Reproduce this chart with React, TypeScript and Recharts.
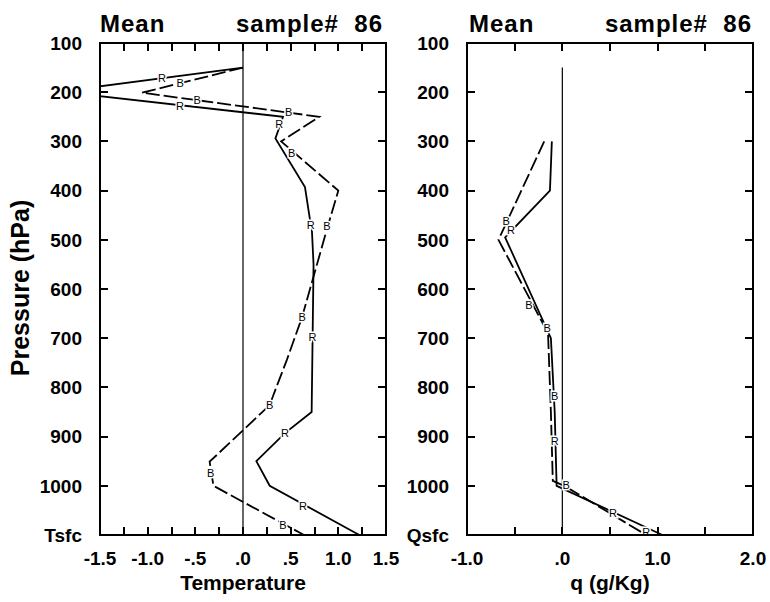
import React from 'react'
import { ScatterChart, Scatter, XAxis, YAxis, ReferenceLine } from 'recharts'

// pressure levels (hPa); 1100 is the surface row (Tsfc / Qsfc)
const pressureTicks = [100, 200, 300, 400, 500, 600, 700, 800, 900, 1000, 1100]

const tempTicks = [-1.5, -1.25, -1.0, -0.75, -0.5, -0.25, 0, 0.25, 0.5, 0.75, 1.0, 1.25, 1.5]
const tempLabels = [-1.5, -1.0, -0.5, 0, 0.5, 1.0, 1.5]
const qTicks = [-1.0, -0.5, 0, 0.5, 1.0, 1.5, 2.0]
const qLabels = [-1.0, 0, 1.0, 2.0]

// [value, pressure]; the R curve leaves the frame near 200 hPa, held at the edge
const tempR: [number, number][] = [
  [0, 150], [-1.5, 188], [-1.5, 208], [0.42, 250], [0.34, 294], [0.65, 393], [0.7, 456], [0.72, 470],
  [0.74, 550], [0.73, 700], [0.72, 850], [0.44, 893], [0.14, 950], [0.28, 1000], [1.22, 1100]
]
const tempB: [number, number][] = [
  [0, 150], [-1.06, 201], [0.8, 250], [0.4, 300], [0.91, 385], [1.0, 400], [0.89, 472],
  [0.76, 561], [0.62, 657], [0.46, 744], [0.32, 815], [0.28, 836], [-0.35, 951], [-0.31, 1000],
  [0.64, 1100]
]
const tempRMarks: [number, number][] = [
  [-0.85, 172], [-0.66, 228], [0.38, 265], [0.71, 470], [0.73, 698], [0.44, 893], [0.63, 1041]
]
const tempBMarks: [number, number][] = [
  [-0.66, 182], [-0.48, 216], [0.48, 240], [0.51, 324], [0.88, 472], [0.62, 657], [0.28, 836],
  [-0.34, 974], [0.42, 1080]
]

const qR: [number, number][] = [
  [-0.11, 300], [-0.13, 400], [-0.6, 495], [-0.12, 700], [-0.08, 850], [-0.06, 1000], [1.05, 1100]
]
const qB: [number, number][] = [
  [-0.19, 300], [-0.67, 500], [-0.15, 690], [-0.12, 850], [-0.1, 990], [0.02, 1000], [0.88, 1100]
]
const qRMarks: [number, number][] = [[-0.54, 480], [-0.08, 908], [0.53, 1055], [0.88, 1093]]
const qBMarks: [number, number][] = [[-0.59, 461], [-0.35, 632], [-0.16, 680], [-0.08, 818], [0.04, 998]]

const FONT = '"Liberation Sans", Arial, Helvetica, sans-serif'
const P_TOP = 100
const P_BOT = 1100
const HEIGHT = 602
const M_TOP = 43
const X_AXIS_H = 67
const TICK_LEN = 8

const toPts = (arr: [number, number][]) => arr.map(([v, p]) => ({ v, p }))

const fmt = (v: number) => {
  const a = Math.abs(v)
  const s = a < 1 ? a.toFixed(1).slice(1) : a.toFixed(1)
  return (v < 0 ? '-' : '') + s
}

const noShape = () => <g />

const letter = (ch: string) => (props: any) => (
  <text
    x={props.cx}
    y={props.cy}
    textAnchor="middle"
    dominantBaseline="central"
    fontSize={11}
    fontFamily={FONT}
    fill="#000"
    stroke="#fff"
    strokeWidth={3}
    paintOrder="stroke"
  >
    {ch}
  </text>
)

type PanelProps = {
  left: number
  width: number
  yAxisWidth: number
  rightMargin: number
  xDomain: [number, number]
  xTicks: number[]
  xLabels: number[]
  sfcLabel: string
  red: [number, number][]
  blue: [number, number][]
  redMarks: [number, number][]
  blueMarks: [number, number][]
  zeroFrom: number
}

const tickStyle = { fontSize: 19, fontWeight: 700, fontFamily: FONT, fill: '#000' }

const bar = (left: number, top: number, w: number, h: number, key: string) => (
  <div key={key} style={{ position: 'absolute', left, top, width: w, height: h, background: '#000' }} />
)

// plot frame with inward ticks, laid over the plot area of the chart
const Frame = (pp: PanelProps) => {
  const [x0, x1] = pp.xDomain
  const l = pp.yAxisWidth
  const r = pp.width - pp.rightMargin
  const t = M_TOP
  const b = HEIGHT - X_AXIS_H
  const sx = (v: number) => l + ((v - x0) / (x1 - x0)) * (r - l)
  const sy = (p: number) => t + ((p - P_TOP) / (P_BOT - P_TOP)) * (b - t)
  const innerX = pp.xTicks.filter((v) => v > x0 && v < x1)
  const innerP = pressureTicks.filter((p) => p > P_TOP && p < P_BOT)
  return (
    <div style={{ position: 'absolute', left: 0, top: 0, width: pp.width, height: HEIGHT, pointerEvents: 'none' }}>
      {bar(l - 1, t - 1, r - l + 2, 2, 'top')}
      {bar(l - 1, b - 1, r - l + 2, 2, 'bottom')}
      {bar(l - 1, t - 1, 2, b - t + 2, 'left')}
      {bar(r - 1, t - 1, 2, b - t + 2, 'right')}
      {innerX.map((v) => bar(Math.round(sx(v)) - 1, b - TICK_LEN, 2, TICK_LEN, 'xb' + v))}
      {innerX.map((v) => bar(Math.round(sx(v)) - 1, t, 2, TICK_LEN, 'xt' + v))}
      {innerP.map((p) => bar(l, Math.round(sy(p)) - 1, TICK_LEN, 2, 'pl' + p))}
      {innerP.map((p) => bar(r - TICK_LEN, Math.round(sy(p)) - 1, TICK_LEN, 2, 'pr' + p))}
    </div>
  )
}

const Panel = (pp: PanelProps) => (
  <div style={{ position: 'absolute', left: pp.left, top: 0, width: pp.width, height: HEIGHT }}>
    <ScatterChart
      width={pp.width}
      height={HEIGHT}
      margin={{ top: M_TOP, right: pp.rightMargin, bottom: 0, left: 0 }}
    >
      <XAxis
        type="number"
        dataKey="v"
        domain={pp.xDomain}
        ticks={pp.xTicks}
        interval={0}
        height={X_AXIS_H}
        tickFormatter={(v: number) => (pp.xLabels.includes(v) ? fmt(v) : '')}
        tick={tickStyle}
        tickSize={0}
        tickMargin={17}
        axisLine={false}
        tickLine={false}
      />
      <YAxis
        type="number"
        dataKey="p"
        domain={[P_TOP, P_BOT]}
        reversed
        ticks={pressureTicks}
        interval={0}
        width={pp.yAxisWidth}
        tickFormatter={(v: number) => (v === P_BOT ? pp.sfcLabel : String(v))}
        tick={tickStyle}
        tickSize={0}
        tickMargin={18}
        axisLine={false}
        tickLine={false}
      />
      <ReferenceLine
        segment={[{ x: 0, y: pp.zeroFrom }, { x: 0, y: P_BOT }]}
        stroke="#000"
        strokeWidth={1.2}
      />
      <Scatter
        data={toPts(pp.red)}
        line={{ stroke: '#000', strokeWidth: 1.8 }}
        lineType="joint"
        shape={noShape}
        isAnimationActive={false}
      />
      <Scatter
        data={toPts(pp.blue)}
        line={{ stroke: '#000', strokeWidth: 1.8, strokeDasharray: '14 4' }}
        lineType="joint"
        shape={noShape}
        isAnimationActive={false}
      />
      <Scatter data={toPts(pp.redMarks)} shape={letter('R')} isAnimationActive={false} />
      <Scatter data={toPts(pp.blueMarks)} shape={letter('B')} isAnimationActive={false} />
    </ScatterChart>
    <Frame {...pp} />
  </div>
)

const titleStyle: React.CSSProperties = {
  position: 'absolute',
  fontFamily: FONT,
  fontWeight: 700,
  fontSize: 24,
  lineHeight: '24px',
  letterSpacing: 1,
  whiteSpace: 'pre',
  color: '#000'
}

const axisTitleStyle: React.CSSProperties = {
  position: 'absolute',
  fontFamily: FONT,
  fontWeight: 700,
  fontSize: 21,
  lineHeight: '24px',
  width: 200,
  textAlign: 'center',
  color: '#000'
}

export default function App() {
  return (
    <div style={{ position: 'absolute', left: 0, top: 0, width: 770, height: HEIGHT, background: '#fff' }}>
      <Panel
        left={0}
        width={410}
        yAxisWidth={100}
        rightMargin={24}
        xDomain={[-1.5, 1.5]}
        xTicks={tempTicks}
        xLabels={tempLabels}
        sfcLabel="Tsfc"
        red={tempR}
        blue={tempB}
        redMarks={tempRMarks}
        blueMarks={tempBMarks}
        zeroFrom={P_TOP}
      />
      <Panel
        left={380}
        width={390}
        yAxisWidth={87}
        rightMargin={17}
        xDomain={[-1.0, 2.0]}
        xTicks={qTicks}
        xLabels={qLabels}
        sfcLabel="Qsfc"
        red={qR}
        blue={qB}
        redMarks={qRMarks}
        blueMarks={qBMarks}
        zeroFrom={150}
      />
      <div style={{ ...titleStyle, left: 100, top: 12 }}>Mean</div>
      <div style={{ ...titleStyle, left: 233, top: 12, width: 150, textAlign: 'right' }}>sample#  86</div>
      <div style={{ ...titleStyle, left: 469, top: 12 }}>Mean</div>
      <div style={{ ...titleStyle, left: 602, top: 12, width: 150, textAlign: 'right' }}>sample#  86</div>
      <div style={{ ...axisTitleStyle, left: 143, top: 571 }}>Temperature</div>
      <div style={{ ...axisTitleStyle, left: 510, top: 571 }}>q (g/Kg)</div>
      <div
        style={{
          position: 'absolute',
          left: -80,
          top: 273,
          width: 200,
          height: 30,
          lineHeight: '30px',
          textAlign: 'center',
          fontFamily: FONT,
          fontWeight: 700,
          fontSize: 25,
          transform: 'rotate(-90deg)',
          color: '#000'
        }}
      >
        Pressure (hPa)
      </div>
    </div>
  )
}
